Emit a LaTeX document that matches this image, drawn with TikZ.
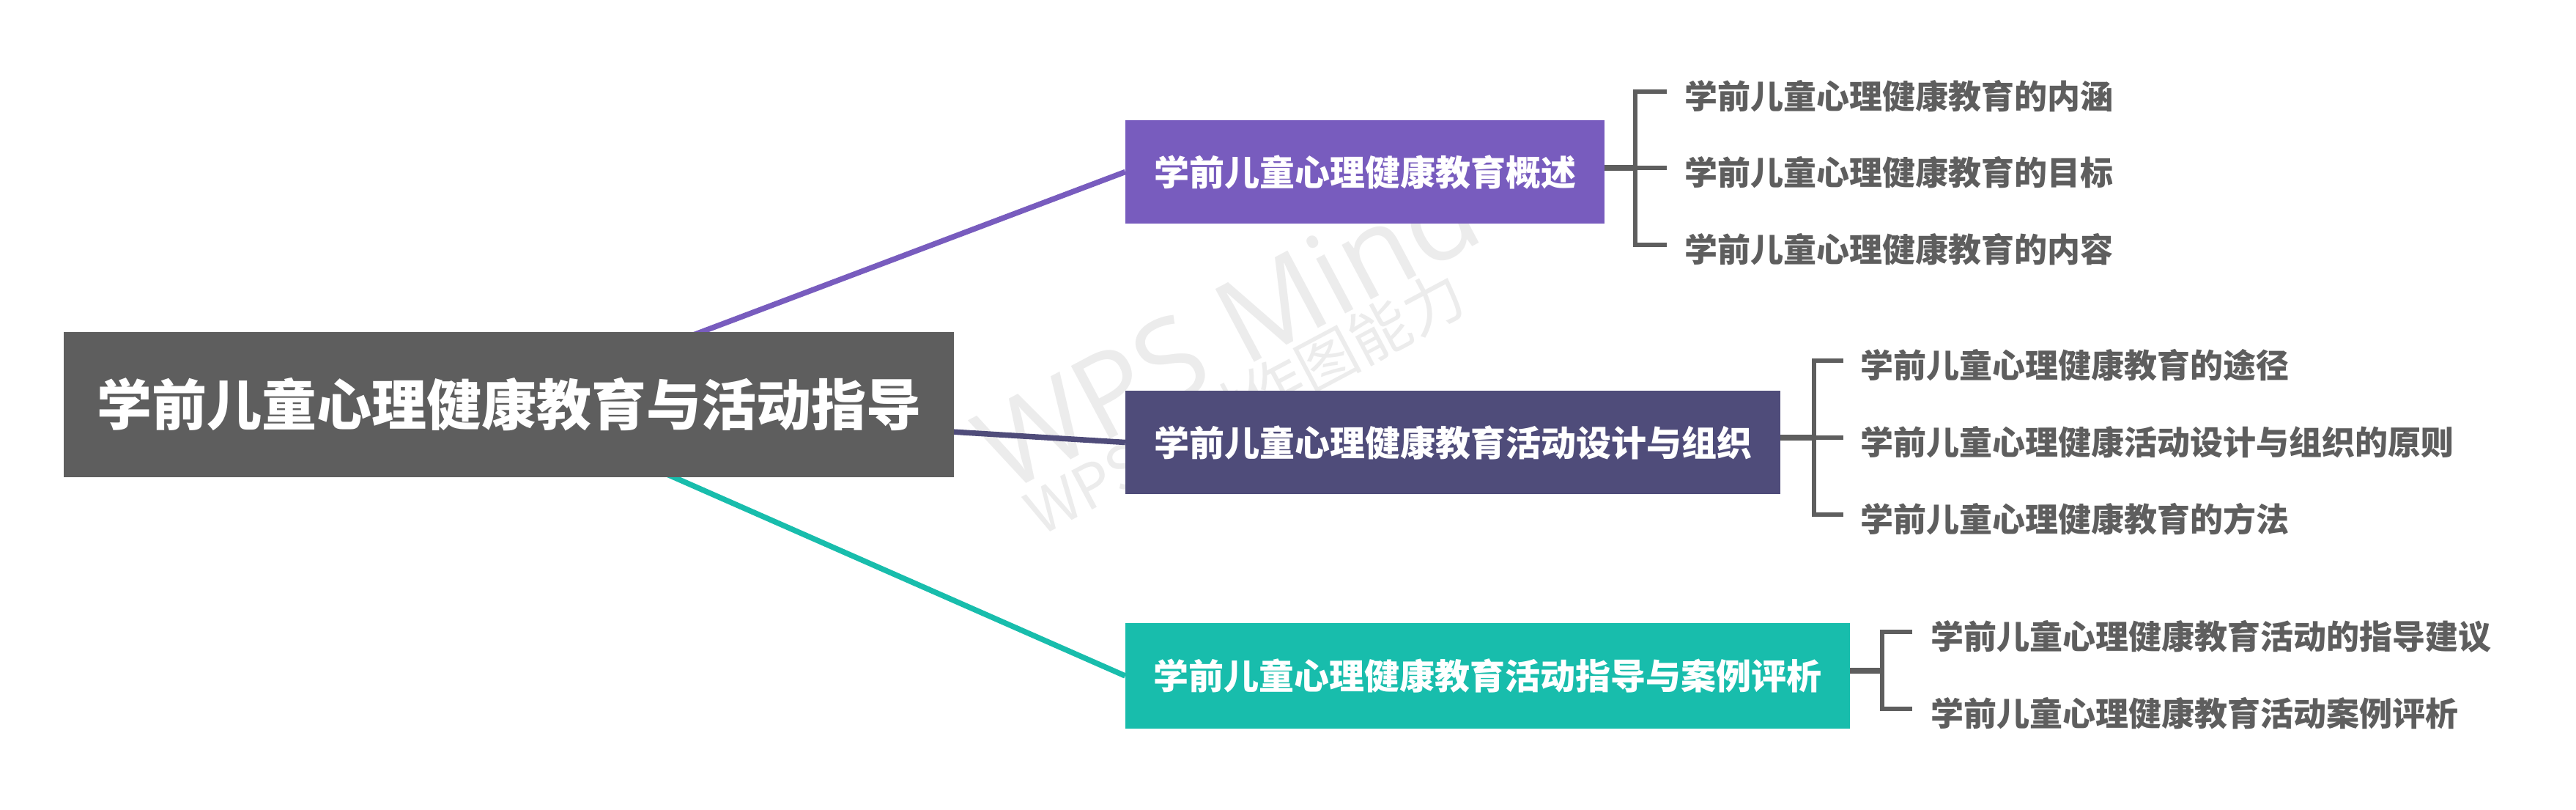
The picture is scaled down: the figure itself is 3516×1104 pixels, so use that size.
\documentclass[tikz,border=0pt]{standalone}
\usepackage{fontspec}
\setmainfont{Noto Sans CJK SC}
\newfontfamily\wmfont{Open Sans}
\definecolor{rootgray}{RGB}{94,94,94}
\definecolor{cpurple}{RGB}{120,92,190}
\definecolor{cnavy}{RGB}{79,76,122}
\definecolor{cteal}{RGB}{24,189,172}
\definecolor{txtgray}{RGB}{94,94,94}
\definecolor{wmgray}{RGB}{236,236,236}
\tikzset{
  rootbox/.style={fill=rootgray, text=white, font=\fontsize{75}{75}\selectfont\bfseries, inner sep=0pt, minimum width=1215pt, minimum height=198pt},
  lvbox/.style={text=white, font=\fontsize{48}{48}\selectfont\bfseries, inner sep=0pt, minimum height=141pt},
  leaf/.style={text=txtgray, font=\fontsize{45}{45}\selectfont\bfseries, inner sep=0pt, anchor=west},
  mainline/.style={line width=7.5pt},
  brline/.style={draw=rootgray, line width=6pt},
  joinline/.style={draw=rootgray, line width=8pt},
  wm/.style={text=wmgray, inner sep=0pt, anchor=base west, rotate=28}
}
\begin{document}
\begin{tikzpicture}[x=1pt,y=-1pt]
\useasboundingbox (0,0) rectangle (3516,1104);
% watermark
\node[wm, font=\wmfont\fontsize{158}{158}\selectfont] (wm1) at (1372,675) {WPS Mind};
\node[wm, font=\fontsize{82}{82}\selectfont] (wm2) at (1420,733) {WPS提供作图能力};
% leaves
\node[leaf] (c11) at (2299,131) {学前儿童心理健康教育的内涵};
\node[leaf] (c12) at (2299,235) {学前儿童心理健康教育的目标};
\node[leaf] (c13) at (2299,340) {学前儿童心理健康教育的内容};
\node[leaf] (c21) at (2539,498) {学前儿童心理健康教育的途径};
\node[leaf] (c22) at (2539,603) {学前儿童心理健康活动设计与组织的原则};
\node[leaf] (c23) at (2539,708) {学前儿童心理健康教育的方法};
\node[leaf] (c31) at (2635,868) {学前儿童心理健康教育活动的指导建议};
\node[leaf] (c32) at (2635,973) {学前儿童心理健康教育活动案例评析};
% level-1 boxes
\node[lvbox, fill=cpurple, minimum width=654pt] (b1) at (1863,234.5) {学前儿童心理健康教育概述};
\node[lvbox, fill=cnavy, minimum width=894pt] (b2) at (1983,603.5) {学前儿童心理健康教育活动设计与组织};
\node[lvbox, fill=cteal, minimum width=989pt, minimum height=144pt] (b3) at (2030.5,922) {学前儿童心理健康教育活动指导与案例评析};
% junction points
\coordinate (j1) at (2232,229);
\coordinate (j2) at (2476,597);
\coordinate (j3) at (2569,915);
% brackets
\draw[joinline] (b1.east |- j1) -- (j1);
\draw[brline] ([xshift=-24pt,yshift=6pt]c11.west) -| (j1) |- ([xshift=-24pt,yshift=6pt]c13.west);
\draw[brline] (j1) -- ([xshift=-24pt,yshift=6pt]c12.west);
\draw[joinline] (b2.east |- j2) -- (j2);
\draw[brline] ([xshift=-23pt,yshift=6pt]c21.west) -| (j2) |- ([xshift=-23pt,yshift=6pt]c23.west);
\draw[brline] (j2) -- ([xshift=-23pt,yshift=6pt]c22.west);
\draw[joinline] (b3.east |- j3) -- (j3);
\draw[brline] ([xshift=-25pt,yshift=6pt]c31.west) -| (j3) |- ([xshift=-25pt,yshift=6pt]c32.west);
% main connectors, then root box on top
\draw[mainline, cpurple] (694.5,552) -- (b1.west);
\draw[mainline, cnavy] (694.5,552) -- (b2.west);
\draw[mainline, cteal] (694.5,552) -- (b3.west);
\node[rootbox] (root) at (694.5,552) {学前儿童心理健康教育与活动指导};
\end{tikzpicture}
\end{document}
